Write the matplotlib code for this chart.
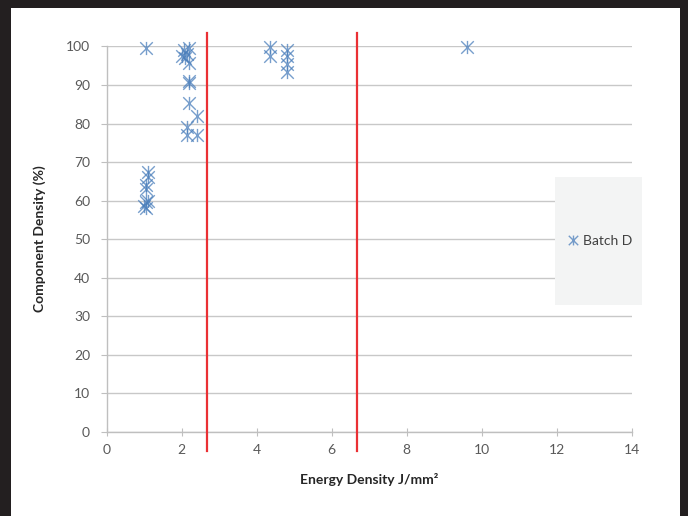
import matplotlib
matplotlib.use("Agg")
import matplotlib.pyplot as plt
from matplotlib.path import Path
from matplotlib.patches import Rectangle

plt.rcParams['font.family'] = ['Lato', 'DejaVu Sans']

# Batch D readings
energy = [1.05, 1.1, 1.1, 1.05, 1.05, 1.1, 1.05, 1.0, 1.05,
          2.05, 2.2, 2.0, 2.15, 2.2, 2.1, 2.2, 2.2, 2.2, 2.4, 2.15, 2.15, 2.4,
          4.35, 4.35, 4.8, 4.8, 4.8, 4.8, 9.6]
density = [99.5, 67.5, 66.0, 64.0, 63.0, 60.0, 59.5, 58.5, 58.0,
           99.0, 99.5, 97.5, 98.0, 95.8, 97.0, 91.0, 90.5, 85.3, 82.0, 79.0, 77.0, 77.0,
           99.8, 97.5, 99.0, 97.5, 95.5, 93.5, 99.8]

# process window limits
limits = [2.68, 6.67]

xticks = [0, 2, 4, 6, 8, 10, 12, 14]
yticks = [0, 10, 20, 30, 40, 50, 60, 70, 80, 90, 100]

# star marker like Excel: X plus vertical bar
star = Path([(-1, -1), (1, 1), (-1, 1), (1, -1), (0, -1.05), (0, 1.05)],
            [Path.MOVETO, Path.LINETO, Path.MOVETO, Path.LINETO, Path.MOVETO, Path.LINETO])

fig = plt.figure(figsize=(6.88, 5.16), dpi=100)
ax = fig.add_axes([0.155, 0.1634, 0.7636, 0.7465])

ax.plot(energy, density, linestyle='none', marker=star, markersize=9.5,
        markeredgecolor='#4a7ebb', markerfacecolor='none', markeredgewidth=1.0,
        alpha=0.75, label='Batch D', zorder=3, clip_on=False)

for x in limits:
    ax.plot([x, x], [-5, 103.5], color='#ea3034', linewidth=1.6, clip_on=False, zorder=4)

ax.set_xlim(0, 14)
ax.set_ylim(0, 100)
ax.set_xticks(xticks)
ax.set_yticks(yticks)
ax.grid(axis='y', color='#c8c8c8', linewidth=1.0)
ax.set_axisbelow(True)

for s in ['top', 'right']:
    ax.spines[s].set_visible(False)
for s in ['left', 'bottom']:
    ax.spines[s].set_color('#bfbfbf')
    ax.spines[s].set_linewidth(1.0)

ax.tick_params(axis='y', direction='out', length=4, color='#bfbfbf', pad=8,
               labelsize=10, labelcolor='#595959')
ax.tick_params(axis='x', direction='inout', length=6, color='#bfbfbf', pad=6,
               labelsize=10, labelcolor='#595959')

ax.set_xlabel('Energy Density J/mm²', fontsize=10, fontweight='bold', color='#262626', labelpad=12)
ax.set_ylabel('Component Density (%)', fontsize=10, fontweight='bold', color='#262626', labelpad=14)

# legend box
fig.patches.append(Rectangle((555 / 688, 1 - 305 / 516), 87 / 688, 128 / 516,
                             transform=fig.transFigure, facecolor='#f3f4f4',
                             edgecolor='none', zorder=0))
fig.legend(loc='center', bbox_to_anchor=(600 / 688, 1 - 241 / 516), frameon=False,
           fontsize=10, handletextpad=0.3, handlelength=0.8, markerscale=0.75,
           labelcolor='#404040')

# black frame around the figure
fig.patches.append(Rectangle((0, 1 - 8 / 516), 1, 8 / 516, transform=fig.transFigure,
                             facecolor='#231f20', edgecolor='none'))
fig.patches.append(Rectangle((0, 0), 11 / 688, 1, transform=fig.transFigure,
                             facecolor='#231f20', edgecolor='none'))
fig.patches.append(Rectangle((680 / 688, 0), 8 / 688, 1, transform=fig.transFigure,
                             facecolor='#231f20', edgecolor='none'))

fig.savefig('out.png', dpi=100)
